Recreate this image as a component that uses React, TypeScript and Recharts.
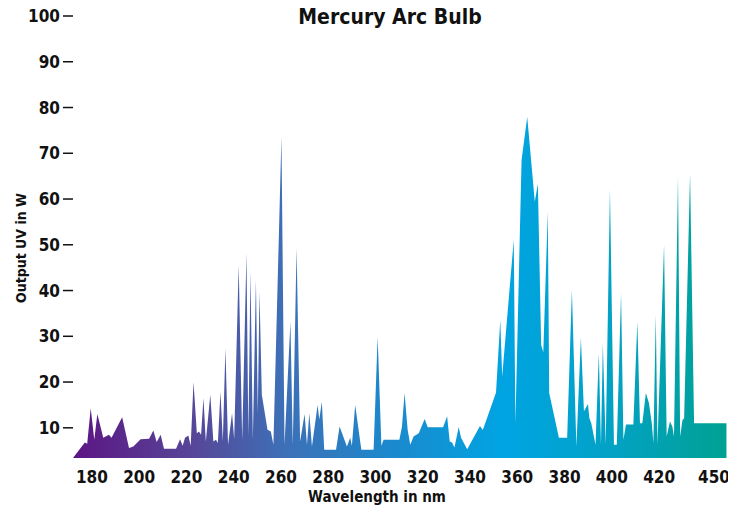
import { AreaChart, Area, XAxis, YAxis } from "recharts"

// wavelength (nm) and output (W)
const wavelengths = [
  172, 177, 178, 179.5, 181, 182.3, 184.8, 187.2, 188.3, 192.8, 195.7, 197.5, 200.6, 204.2, 206, 207.4,
  209.1, 210.5, 215.6, 217.3, 218.4, 219.4, 220.8, 221.8, 223, 224.4, 225.3, 226.2, 227.2, 228.2, 230.1,
  231.4, 232.5, 233.3, 234.4, 235.4, 236.5, 237.6, 239.3, 240.2, 242.1, 243.6, 245.4, 246.2, 247.1, 248.1,
  249.4, 250.2, 250.9, 251.9, 254.3, 255.7, 256.8, 260.2, 261.5, 264, 265, 266.6, 268.1, 270, 271, 272,
  273.1, 275.5, 276.2, 277.3, 278.3, 283.3, 284.8, 287.9, 289.3, 290, 291.4, 294, 299.2, 300.9, 302.5,
  303.4, 310.1, 311.2, 312.3, 313.6, 314.7, 316.1, 318.3, 320.8, 322.1, 328.6, 330.3, 331.4, 332.4, 333.4,
  335.2, 336.2, 338.8, 344.2, 345.4, 351, 352.8, 353.6, 358.5, 359.2, 361.8, 364.2, 367.4, 368.7, 370.1,
  371, 372.9, 373.5, 377.6, 381.1, 383.1, 385, 386.9, 388.2, 389.9, 390.5, 391.3, 393.1, 394.5, 395.4,
  396.2, 397.4, 399.2, 400.9, 402.1, 403.9, 404.9, 406, 409.1, 410.8, 411.9, 412.9, 414.4, 415.7, 416.9,
  417.6, 418.6, 419.3, 422.1, 423.2, 424.6, 425.6, 426.3, 428, 428.9, 429.9, 430.6, 433.1, 434.8, 448.5,
]

const outputs = [
  3.4, 6.8, 6.5, 14.3, 7.4, 13, 7.8, 8.5, 7.8, 12.3, 5.6, 5.9, 7.5, 7.6, 9.4, 6.9,
  8.5, 5.4, 5.4, 7.5, 6.1, 7.8, 8.3, 6.1, 20, 8.8, 9.2, 8.5, 16.5, 7.0, 17.2,
  7.0, 7.4, 6.7, 17.9, 7.0, 27.4, 6.3, 13.2, 7.5, 45.6, 7.4, 48.2, 8.1, 44.2, 7.4,
  42.3, 13.2, 39.8, 17.2, 9.6, 9.2, 6.3, 73.6, 6.3, 33.2, 6.3, 49.3, 7.0, 13.0, 6.3, 13.2,
  5.9, 15.0, 11.8, 15.7, 5.2, 5.2, 10.3, 5.9, 7.8, 6.1, 15.0, 5.2, 5.2, 29.9, 6.1,
  7.4, 7.4, 10.3, 17.6, 9.6, 6.3, 8.1, 8.8, 11.9, 10.1, 10.1, 12.5, 7.0, 6.8, 5.7,
  10.2, 7.8, 5.3, 10.4, 9.5, 17.7, 33.6, 21.2, 51.1, 11.0, 68.5, 77.9, 59.4, 63.3, 28.1,
  26.5, 57.3, 17.6, 7.8, 7.8, 40.1, 5.9, 29.6, 13.6, 15.2, 12.1, 11.0, 6.3, 26.3, 6.3,
  28.5, 6.3, 62.1, 6.3, 6.3, 39.4, 7.4, 10.7, 10.7, 33.2, 11.0, 11.0, 17.6, 15.4, 11.0,
  6.7, 34.7, 6.3, 50.0, 8.1, 11.4, 10.3, 8.1, 65, 8.1, 11.7, 12.1, 65.5, 11.0, 11.0,
]

const xTicks = [180, 200, 220, 240, 260, 280, 300, 320, 340, 360, 380, 400, 420, 450]
const yTicks = [10, 20, 30, 40, 50, 60, 70, 80, 90, 100]

const data = wavelengths.map((wl, i) => ({ wl, output: outputs[i] }))

const font = "'Liberation Sans Narrow', 'DejaVu Sans Condensed', 'Roboto', sans-serif"

function XTick(props: any) {
  const { x, y, payload } = props
  const last = payload.value === xTicks[xTicks.length - 1]
  return (
    <text
      x={x}
      y={y}
      dy={12}
      textAnchor={last ? "end" : "middle"}
      fontFamily={font}
      fontWeight="bold"
      fontSize={17}
      fill="#111"
    >
      {payload.value}
    </text>
  )
}

export default function App() {
  // sits flush with the top of the page so the "100" tick is not clipped
  return (
    <div style={{ position: "relative", width: 728, height: 507, marginTop: -8 }}>
      <AreaChart width={728} height={507} data={data} margin={{ top: 16, right: 6, bottom: 19, left: 0 }}>
        <defs>
          <linearGradient id="bulbFill" x1="0" y1="0" x2="1" y2="0">
            <stop offset="0%" stopColor="#5c1584" />
            <stop offset="18%" stopColor="#574597" />
            <stop offset="32%" stopColor="#3e6fb6" />
            <stop offset="48%" stopColor="#1d88cc" />
            <stop offset="66%" stopColor="#00a4e2" />
            <stop offset="82%" stopColor="#02a2c6" />
            <stop offset="100%" stopColor="#00a192" />
          </linearGradient>
        </defs>
        <XAxis
          dataKey="wl"
          type="number"
          domain={[172, 450]}
          ticks={xTicks}
          height={30}
          axisLine={false}
          tickLine={false}
          tickSize={0}
          tickMargin={13}
          tick={<XTick />}
          interval={0}
        />
        <YAxis
          type="number"
          domain={[3.4, 100]}
          ticks={yTicks}
          width={65}
          axisLine={false}
          tickSize={10}
          tickMargin={3}
          tickLine={{ stroke: "#111", strokeWidth: 1.5 }}
          tick={{ fill: "#111", fontFamily: font, fontWeight: "bold", fontSize: 17 }}
          interval={0}
        />
        <Area
          type="linear"
          dataKey="output"
          stroke="none"
          fill="url(#bulbFill)"
          fillOpacity={1}
          isAnimationActive={false}
        />
      </AreaChart>
      <svg
        width={728}
        height={507}
        style={{ position: "absolute", left: 0, top: 0, pointerEvents: "none", overflow: "visible" }}
      >
        <text x={382} y={24} textAnchor="middle" fontFamily={font} fontWeight="bold" fontSize={21} fill="#111">
          Mercury Arc Bulb
        </text>
        <text
          x={0}
          y={0}
          transform="translate(18 248) rotate(-90)"
          textAnchor="middle"
          fontFamily={font}
          fontWeight="bold"
          fontSize={14}
          fill="#111"
        >
          Output UV in W
        </text>
        <text x={369} y={502} textAnchor="middle" fontFamily={font} fontWeight="bold" fontSize={15} fill="#111">
          Wavelength in nm
        </text>
      </svg>
    </div>
  )
}
